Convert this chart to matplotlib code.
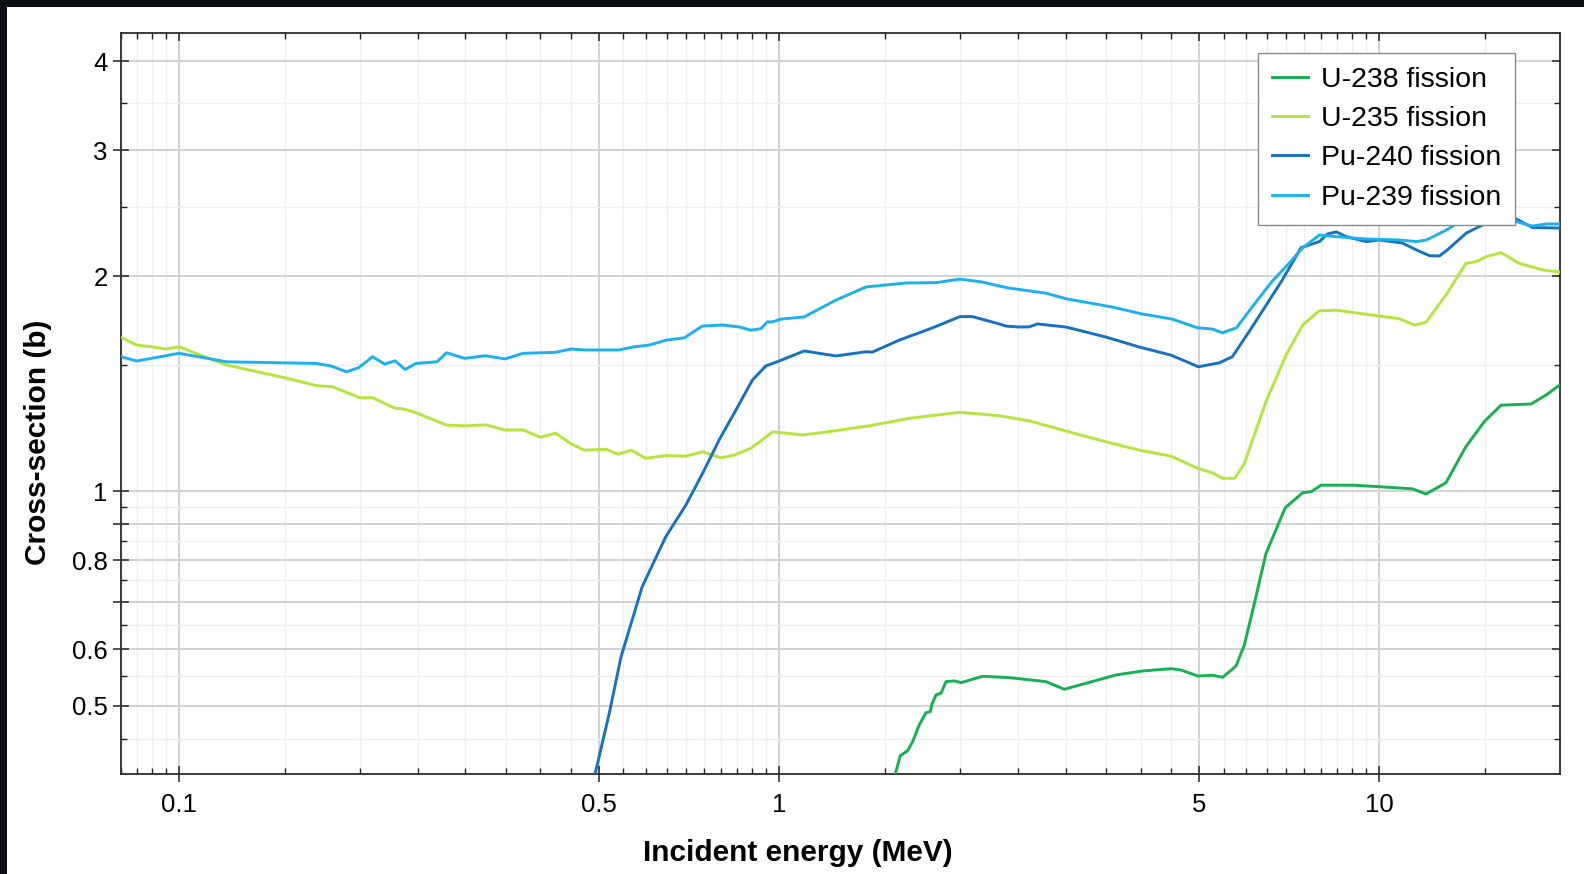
import matplotlib
matplotlib.use("Agg")
import matplotlib.pyplot as plt
from matplotlib.lines import TICKDOWN, TICKLEFT
from matplotlib.patches import Rectangle
from matplotlib.ticker import FixedLocator, FixedFormatter, NullFormatter

plt.rcParams['font.family'] = ['Liberation Sans', 'DejaVu Sans']

# --- Data (incident energy in MeV, cross-section in barns) ---
u238_e = [1.543, 1.591, 1.636, 1.668, 1.711, 1.756, 1.785, 1.797, 1.825, 1.86, 1.896, 1.958,
          2.009, 2.183, 2.416, 2.783, 2.985, 3.245, 3.64, 4.032, 4.496, 4.672, 4.982, 5.275,
          5.482, 5.77, 5.957, 6.19, 6.473, 6.97, 7.451, 7.694, 7.994, 9.028, 10.0, 11.36,
          11.96, 12.91, 13.94, 14.96, 15.95, 17.9, 18.96, 20.0]
u238_xs = [0.3875, 0.4259, 0.4328, 0.4455, 0.4703, 0.4893, 0.4909, 0.5032, 0.5181, 0.521,
           0.5408, 0.5421, 0.5391, 0.5503, 0.5478, 0.5408, 0.5277, 0.538, 0.5526, 0.5597,
           0.5639, 0.5615, 0.5507, 0.552, 0.5484, 0.5688, 0.6087, 0.6959, 0.8179, 0.9476,
           0.9945, 0.9977, 1.019, 1.019, 1.014, 1.007, 0.9904, 1.027, 1.154, 1.251, 1.319,
           1.324, 1.363, 1.409]

u235_e = [0.08, 0.085, 0.09, 0.095, 0.1, 0.12, 0.15, 0.17, 0.18, 0.2, 0.21, 0.229, 0.235,
          0.246, 0.279, 0.30, 0.324, 0.35, 0.374, 0.40, 0.424, 0.45, 0.473, 0.515, 0.539,
          0.567, 0.599, 0.646, 0.699, 0.745, 0.80, 0.841, 0.897, 0.944, 0.975, 1.0, 1.094,
          1.243, 1.413, 1.647, 2.0, 2.326, 2.61, 2.966, 3.503, 3.981, 4.496, 4.982, 5.275,
          5.482, 5.743, 5.957, 6.473, 6.99, 7.451, 7.943, 8.469, 10.0, 10.8, 11.44, 11.96,
          12.91, 13.94, 14.5, 15.06, 15.95, 17.11, 18.72, 20.0]
u235_xs = [1.642, 1.601, 1.592, 1.581, 1.592, 1.501, 1.441, 1.404, 1.400, 1.351, 1.351,
           1.306, 1.304, 1.291, 1.237, 1.234, 1.238, 1.217, 1.218, 1.189, 1.205, 1.164,
           1.141, 1.144, 1.126, 1.141, 1.111, 1.121, 1.119, 1.135, 1.113, 1.123, 1.148,
           1.185, 1.210, 1.208, 1.198, 1.215, 1.234, 1.264, 1.289, 1.275, 1.254, 1.217,
           1.172, 1.141, 1.119, 1.076, 1.060, 1.042, 1.042, 1.093, 1.334, 1.550, 1.708,
           1.788, 1.792, 1.758, 1.743, 1.708, 1.723, 1.881, 2.084, 2.095, 2.129, 2.157,
           2.084, 2.040, 2.026]

pu240_e = [0.486, 0.501, 0.521, 0.545, 0.591, 0.647, 0.699, 0.75, 0.794, 0.847, 0.902, 0.95,
           1.0, 1.10, 1.243, 1.395, 1.429, 1.585, 1.799, 2.0, 2.098, 2.326, 2.387, 2.512,
           2.61, 2.692, 3.005, 3.503, 3.981, 4.496, 4.993, 5.412, 5.689, 6.143, 6.891, 7.406,
           7.943, 8.192, 8.479, 8.81, 9.513, 10.0, 10.92, 11.53, 12.12, 12.59, 12.98, 13.96,
           15.08, 15.85, 16.79, 17.99, 20.0]
pu240_xs = [0.381, 0.4245, 0.4888, 0.5861, 0.7345, 0.863, 0.9559, 1.070, 1.179, 1.299,
            1.430, 1.497, 1.521, 1.571, 1.546, 1.567, 1.565, 1.627, 1.692, 1.755, 1.755,
            1.714, 1.702, 1.697, 1.698, 1.714, 1.697, 1.643, 1.591, 1.550, 1.493, 1.512,
            1.542, 1.699, 1.975, 2.192, 2.235, 2.291, 2.306, 2.271, 2.235, 2.247, 2.225,
            2.176, 2.136, 2.134, 2.176, 2.298, 2.373, 2.412, 2.412, 2.339, 2.335]

pu239_e = [0.08, 0.085, 0.1, 0.12, 0.169, 0.179, 0.19, 0.199, 0.21, 0.22, 0.229, 0.238,
           0.248, 0.269, 0.279, 0.299, 0.324, 0.349, 0.374, 0.424, 0.45, 0.473, 0.54, 0.573,
           0.607, 0.649, 0.695, 0.744, 0.804, 0.858, 0.897, 0.932, 0.955, 0.973, 1.007, 1.10,
           1.243, 1.395, 1.626, 1.825, 2.0, 2.18, 2.326, 2.416, 2.783, 3.005, 3.589, 4.027,
           4.519, 4.975, 5.27, 5.475, 5.777, 6.143, 6.632, 7.079, 7.442, 7.943, 8.479, 9.513,
           10.8, 11.53, 11.98, 12.93, 13.49, 14.68, 15.85, 16.79, 17.99, 18.98, 20.0]
pu239_xs = [1.542, 1.521, 1.559, 1.517, 1.509, 1.497, 1.469, 1.488, 1.542, 1.506, 1.522,
            1.480, 1.509, 1.517, 1.562, 1.534, 1.547, 1.531, 1.559, 1.564, 1.581, 1.576,
            1.576, 1.592, 1.601, 1.627, 1.639, 1.702, 1.708, 1.697, 1.680, 1.688, 1.725,
            1.725, 1.741, 1.753, 1.851, 1.931, 1.956, 1.958, 1.981, 1.962, 1.937, 1.924,
            1.893, 1.859, 1.810, 1.770, 1.741, 1.693, 1.686, 1.666, 1.692, 1.812, 1.968,
            2.086, 2.189, 2.283, 2.271, 2.254, 2.247, 2.235, 2.247, 2.320, 2.373, 2.427,
            2.420, 2.388, 2.350, 2.366, 2.366]

labels = ['U-238 fission', 'U-235 fission', 'Pu-240 fission', 'Pu-239 fission']
colors = ['#17b04f', '#b5e53d', '#1672c0', '#1cb1ee']

x_major = [0.1, 0.5, 1, 5, 10]
x_major_labels = ['0.1', '0.5', '1', '5', '10']
x_minor = ([0.08, 0.085, 0.09, 0.095]
           + [0.15, 0.2, 0.25, 0.3, 0.35, 0.4, 0.45, 0.55, 0.6, 0.65, 0.7, 0.75, 0.8, 0.85, 0.9, 0.95]
           + [1.5, 2, 2.5, 3, 3.5, 4, 4.5, 5.5, 6, 6.5, 7, 7.5, 8, 8.5, 9, 9.5, 15])
y_major = [0.5, 0.6, 0.7, 0.8, 0.9, 1, 2, 3, 4]
y_major_labels = ['0.5', '0.6', '', '0.8', '', '1', '2', '3', '4']
y_minor = [0.45, 0.55, 0.65, 0.75, 0.85, 0.95, 1.5, 2.5, 3.5]

# --- Figure ---
W, H = 1584, 874
fig = plt.figure(figsize=(W / 100, H / 100), dpi=100)
fig.patch.set_facecolor('#0d0f17')
fig.add_artist(Rectangle((7 / W, 0), 1, (H - 7) / H, transform=fig.transFigure,
                         facecolor='white', edgecolor='none', zorder=0))

ax = fig.add_axes([121 / W, 100 / H, 1439 / W, 741 / H])
ax.set_xscale('log')
ax.set_yscale('log')

series = [(u238_e, u238_xs), (u235_e, u235_xs), (pu240_e, pu240_xs), (pu239_e, pu239_xs)]
for (e, xs), lab, col in zip(series, labels, colors):
    ax.plot(e, xs, color=col, lw=2.1, label=lab, zorder=3)

ax.set_xlim(0.08, 20)
ax.set_ylim(0.4015, 4.38)

ax.xaxis.set_major_locator(FixedLocator(x_major))
ax.xaxis.set_major_formatter(FixedFormatter(x_major_labels))
ax.xaxis.set_minor_locator(FixedLocator(x_minor))
ax.xaxis.set_minor_formatter(NullFormatter())
ax.yaxis.set_major_locator(FixedLocator(y_major))
ax.yaxis.set_major_formatter(FixedFormatter(y_major_labels))
ax.yaxis.set_minor_locator(FixedLocator(y_minor))
ax.yaxis.set_minor_formatter(NullFormatter())

ax.grid(True, which='major', color='#d2d2d2', lw=1.4, zorder=0)
ax.grid(True, which='minor', color='#efefef', lw=1.0, zorder=0)
ax.set_axisbelow(True)

ax.tick_params(which='major', direction='inout', length=11, width=1.1, color='#222222',
               labelsize=18.5, top=True, right=True)
ax.tick_params(axis='x', which='major', pad=8)
ax.tick_params(axis='y', which='major', pad=4)
ax.tick_params(which='minor', direction='in', length=4, width=1.0, color='#222222',
               top=True, right=True)

# top and right major ticks point inward only
for t in ax.xaxis.get_major_ticks():
    t.tick2line.set_marker(TICKDOWN)
    t.tick2line.set_markersize(5.5)
for t in ax.yaxis.get_major_ticks():
    t.tick2line.set_marker(TICKLEFT)
    t.tick2line.set_markersize(5.5)

for s in ax.spines.values():
    s.set_color('#2a2a2a')
    s.set_linewidth(1.3)

ax.set_xlabel('Incident energy (MeV)', fontsize=21.5, fontweight='bold')
ax.set_ylabel('Cross-section (b)', fontsize=21.5, fontweight='bold')
ax.xaxis.set_label_coords((798 - 121) / 1439, (774 - 853) / 741)
ax.yaxis.set_label_coords((38 - 121) / 1439, (774 - 442) / 741)
ax.xaxis.label.set_verticalalignment('center')
ax.yaxis.label.set_verticalalignment('center')

leg = ax.legend(loc='upper right', bbox_to_anchor=((1515 - 121) / 1439, (774 - 53) / 741),
                borderaxespad=0, fontsize=20.5, fancybox=False, framealpha=1,
                edgecolor='#8a8a8a', handlelength=1.25, handletextpad=0.45,
                labelspacing=0.46, borderpad=0.5)
leg.get_frame().set_linewidth(1.0)
leg.set_zorder(5)

fig.savefig('out.png', dpi=100, facecolor=fig.get_facecolor())
